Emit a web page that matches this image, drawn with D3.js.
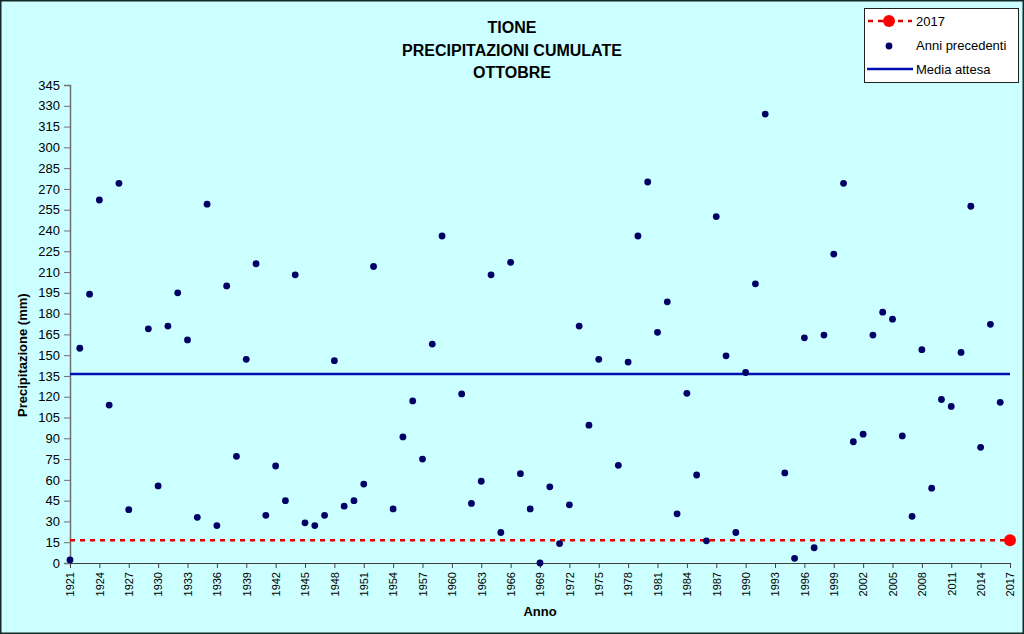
<!DOCTYPE html>
<html>
<head>
<meta charset="utf-8">
<script src="https://cdn.jsdelivr.net/npm/d3@7"></script>
<style>
  body { margin: 0; background: #ccffff; }
  text { font-family: "Liberation Sans", Arial, sans-serif; }
</style>
</head>
<body>
<div id="chart"></div>
<script>
// categories: years 1921..2017
var years = d3.range(1921, 2018);

// cumulated rainfall in October, previous years (1921..2016), null = missing
var anniPrecedenti = [
  2.2, 155, 194, 262, 114, 274, 38.5, null, 169, 55.6,
  171, 195, 161, 33, 259, 27, 200, 77, 147, 216,
  34.4, 70, 45, 208, 29, 27, 34.4, 146, 41, 45,
  57, 214, null, 39, 91, 117, 75, 158, 236, null,
  122, 43, 59, 208, 22, 217, 64.5, 39, 0, 55,
  14, 42, 171, 99.5, 147, null, 70.5, 145, 236, 275,
  166.5, 188.5, 35.5, 122.5, 63.5, 16, 250, 149.5, 22, 137.5,
  201.5, 324, null, 65, 3.4, 162.5, 11, 164.5, 223, 274,
  87.5, 93, 164.5, 181, 176, 91.7, 33.7, 154, 54, 118,
  113, 152, 257.5, 83.5, 172.3, 116
];
var valore2017 = 16.4;
var mediaAttesa = 136.5;

var yTicks = d3.range(0, 346, 15);
var xTickYears = years.filter(function(d) { return (d - 1921) % 3 === 0; });

var W = 1024, H = 634;
var margin = {top: 85, right: 14, bottom: 71, left: 70},
    width = W - margin.left - margin.right,
    height = H - margin.top - margin.bottom;

var svg = d3.select("#chart")
  .append("svg")
    .attr("width", W)
    .attr("height", H);

// chart background + outer border
svg.append("rect")
    .attr("x", 0.75).attr("y", 0.75)
    .attr("width", W - 1.5).attr("height", H - 1.5)
    .attr("fill", "#ccffff")
    .attr("stroke", "#142828")
    .attr("stroke-width", 1.5);

var g = svg.append("g")
    .attr("transform", "translate(" + margin.left + "," + margin.top + ")");

var x = d3.scalePoint()
    .domain(years)
    .range([0, width]);

var y = d3.scaleLinear()
    .domain([0, 345])
    .range([height, 0]);

// y axis
var yAxis = g.append("g")
    .call(d3.axisLeft(y).tickValues(yTicks).tickSize(6).tickPadding(4));
yAxis.select(".domain").attr("stroke", "#707070").attr("stroke-width", 1.5);
yAxis.selectAll(".tick line").attr("stroke", "#707070");
yAxis.selectAll(".tick text")
    .style("font-size", "13px")
    .attr("fill", "#000");

// x axis
var xAxis = g.append("g")
    .attr("transform", "translate(0," + height + ")")
    .call(d3.axisBottom(x).tickValues(xTickYears).tickSize(5).tickSizeOuter(0));
xAxis.select(".domain").attr("stroke", "#404040");
xAxis.selectAll(".tick line").attr("stroke", "#404040");
xAxis.selectAll(".tick text")
    .style("font-size", "11px")
    .attr("fill", "#000")
    .attr("transform", "rotate(-90)")
    .attr("x", -9)
    .attr("y", 0)
    .attr("dy", "0.35em")
    .style("text-anchor", "end");

// media attesa
g.append("line")
    .attr("x1", 0).attr("x2", width)
    .attr("y1", y(mediaAttesa)).attr("y2", y(mediaAttesa))
    .attr("stroke", "#0010b0")
    .attr("stroke-width", 2.5);

// 2017 level line
g.append("line")
    .attr("x1", 0).attr("x2", width)
    .attr("y1", y(valore2017)).attr("y2", y(valore2017))
    .attr("stroke", "#e00000")
    .attr("stroke-width", 2.5)
    .attr("stroke-dasharray", "5,5");

// previous years
var pts = years.slice(0, anniPrecedenti.length).map(function(d, i) {
  return {anno: d, v: anniPrecedenti[i]};
}).filter(function(d) { return d.v !== null; });

g.selectAll(".dot")
  .data(pts)
  .enter().append("circle")
    .attr("class", "dot")
    .attr("cx", function(d) { return x(d.anno); })
    .attr("cy", function(d) { return y(d.v); })
    .attr("r", 3.4)
    .attr("fill", "#000066");

// 2017 point
g.append("circle")
    .attr("cx", x(2017))
    .attr("cy", y(valore2017))
    .attr("r", 6)
    .attr("fill", "#ff0000");

// title
var title = ["TIONE", "PRECIPITAZIONI CUMULATE", "OTTOBRE"];
svg.selectAll(".title")
  .data(title)
  .enter().append("text")
    .attr("class", "title")
    .attr("x", 512)
    .attr("y", function(d, i) { return 33 + i * 22.5; })
    .attr("text-anchor", "middle")
    .style("font-size", "16px")
    .style("font-weight", "bold")
    .text(function(d) { return d; });

// axis titles
svg.append("text")
    .attr("transform", "translate(27," + (margin.top + y(150)) + ") rotate(-90)")
    .attr("text-anchor", "middle")
    .style("font-size", "13px")
    .style("font-weight", "bold")
    .text("Precipitazione (mm)");

svg.append("text")
    .attr("x", margin.left + width / 2)
    .attr("y", 616)
    .attr("text-anchor", "middle")
    .style("font-size", "13px")
    .style("font-weight", "bold")
    .text("Anno");

// legend
var lg = svg.append("g").attr("transform", "translate(864,8)");
lg.append("rect")
    .attr("x", 0.5).attr("y", 0.5)
    .attr("width", 154).attr("height", 74)
    .attr("fill", "#ffffff")
    .attr("stroke", "#202020");

lg.append("line")
    .attr("x1", 4).attr("x2", 48).attr("y1", 13).attr("y2", 13)
    .attr("stroke", "#e00000").attr("stroke-width", 2.5)
    .attr("stroke-dasharray", "5,5");
lg.append("circle").attr("cx", 25).attr("cy", 13).attr("r", 6).attr("fill", "#ff0000");
lg.append("circle").attr("cx", 25).attr("cy", 38).attr("r", 3.4).attr("fill", "#000066");
lg.append("line")
    .attr("x1", 3).attr("x2", 49).attr("y1", 61).attr("y2", 61)
    .attr("stroke", "#0010b0").attr("stroke-width", 2.5);

var legendText = ["2017", "Anni precedenti", "Media attesa"];
lg.selectAll(".lt")
  .data(legendText)
  .enter().append("text")
    .attr("class", "lt")
    .attr("x", 52)
    .attr("y", function(d, i) { return 13 + i * 24; })
    .attr("dy", "0.35em")
    .style("font-size", "13px")
    .text(function(d) { return d; });
</script>
</body>
</html>
